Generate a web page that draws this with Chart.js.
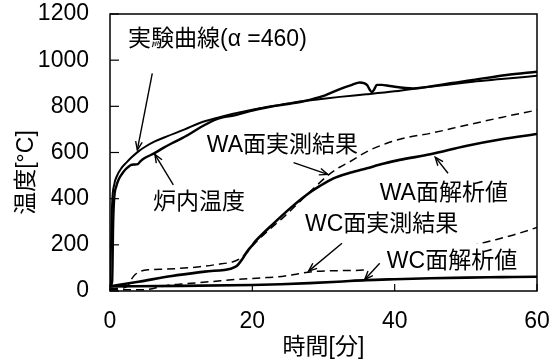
<!DOCTYPE html>
<html>
<head>
<meta charset="utf-8">
<script src="https://cdn.jsdelivr.net/npm/chart.js@4/dist/chart.umd.min.js"></script>
<style>
  html, body { margin: 0; padding: 0; background: #fff; }
  canvas { display: block; }
</style>
</head>
<body>
<canvas id="chart" width="553" height="362"></canvas>
<script>
// 時間 [分] と温度 [℃]

// 実験曲線 (α = 460)
const stdTime = [0, 0.15, 0.3, 0.6, 1.0, 1.6, 2.3, 3.0, 4.0, 5.0, 6.3, 8.0, 10.5, 12.6, 15, 17.3, 20, 22, 25, 27, 30, 32.3, 36, 40, 45, 51, 55, 60];
const stdTemp = [20, 200, 380, 462, 500, 532, 556, 578, 605, 626, 648, 670, 700, 728, 750, 768, 785, 797, 812, 822, 833, 841, 852, 865, 885, 907, 918, 932];

// 炉内温度
const furnaceTime = [0, 0.3, 0.45, 0.6, 0.9, 1.2, 1.7, 2.1, 2.6, 3.0, 3.3, 3.9, 4.3, 5.0, 6.2, 7.5, 8.7, 10.5, 12.5, 15, 17.8, 20, 22, 25, 27.2, 30, 32.3, 34, 35.1, 36.1, 36.5, 36.8, 37.1, 37.5, 38.2, 39.3, 42.6, 46.4, 51, 55.7, 60];
const furnaceTemp = [20, 40, 300, 405, 455, 482, 508, 524, 538, 546, 548, 550, 563, 578, 596, 620, 640, 668, 705, 745, 763, 782, 795, 810, 822, 845, 875, 893, 903, 893, 872, 862, 872, 893, 893, 888, 878, 893, 914, 936, 950];

// WA面 解析値
const waCalcTime = [0, 2, 4, 8.7, 13.3, 17.1, 17.8, 18.5, 19.2, 19.9, 20.6, 23, 25.3, 27.6, 29.5, 31.4, 33.7, 36.1, 38.5, 40.7, 45, 50, 55, 60];
const waCalcTemp = [20, 30, 40, 65, 84, 98, 108, 134, 168, 195, 221, 293, 358, 416, 455, 488, 512, 532, 552, 568, 592, 628, 657, 680];

// WA面 実測結果
const waMeasTime = [0, 1.5, 2.5, 2.9, 3.5, 4.2, 5.5, 8, 12.6, 15, 17.3, 18.3, 19.2, 20, 22, 24.4, 26.7, 28.8, 30.7, 32.2, 33.7, 36.1, 38.9, 41.7, 45, 50, 55, 60];
const waMeasTemp = [10, 12, 22, 45, 70, 84, 92, 95, 105, 115, 127, 141, 165, 195, 255, 320, 388, 450, 503, 535, 560, 604, 640, 665, 683, 718, 752, 784];

// WC面 解析値
const wcCalcTime = [0, 10, 20, 24, 28, 32, 36, 40, 45, 50, 55, 60];
const wcCalcTemp = [20, 22, 26, 29, 34, 40, 47, 51, 55, 58, 60, 62];

// WC面 実測結果
const wcMeasTime = [0, 5, 6.5, 8, 10, 14, 18, 22, 24.6, 26.5, 28.6, 32, 35.6, 40, 45, 49, 52.9, 56.7, 60];
const wcMeasTemp = [5, 6, 14, 24, 30, 40, 51, 58, 65, 75, 84, 88, 91, 110, 145, 180, 212, 243, 275];

// 目盛
const xTicks = [0, 20, 40, 60];
const yTicks = [0, 200, 400, 600, 800, 1000, 1200];

const LATIN_CJK = "'Liberation Sans', Arial, 'Noto Sans CJK JP', sans-serif";
const FONT_SIZE = 23;

const pts = (ts, vs) => ts.map((t, i) => ({ x: t, y: vs[i] }));

// 引出し線つきの注記 (位置は軸の値で指定)
const notes = [
  { text: '実験曲線(α =460)', at: [2.53, 1102], from: [5.94, 943], to: [3.84, 611] },
  { text: '炉内温度',         at: [6.04, 394],  from: [8.9, 460],   to: [6.3, 592] },
  { text: 'WA面実測結果',     at: [13.6, 641],  from: [25.8, 556],  to: [30.6, 505] },
  { text: 'WA面解析値',       at: [37.9, 435],  from: [47.5, 510],  to: [45.7, 580] },
  { text: 'WC面実測結果',     at: [27.4, 299],  from: [32.6, 207],  to: [27.9, 86] },
  { text: 'WC面解析値',       at: [38.9, 142],  from: [37.9, 120],  to: [35.8, 50], box: [35.8, 57, 74, 205] }
];

function arrow(ctx, x1, y1, x2, y2) {
  const ang = Math.atan2(y2 - y1, x2 - x1);
  const len = 9, spread = 0.38;
  ctx.beginPath();
  ctx.moveTo(x1, y1);
  ctx.lineTo(x2, y2);
  ctx.stroke();
  ctx.beginPath();
  ctx.moveTo(x2 - len * Math.cos(ang - spread), y2 - len * Math.sin(ang - spread));
  ctx.lineTo(x2, y2);
  ctx.lineTo(x2 - len * Math.cos(ang + spread), y2 - len * Math.sin(ang + spread));
  ctx.stroke();
}

const framePlugin = {
  id: 'frameAndNotes',
  afterDatasetsDraw(chart) {
    const { ctx, chartArea: a, scales: { x, y } } = chart;
    ctx.save();

    // 枠
    ctx.strokeStyle = '#000';
    ctx.lineWidth = 1.5;
    ctx.strokeRect(a.left, a.top, a.right - a.left, a.bottom - a.top);

    // 内向きの目盛線
    ctx.lineWidth = 1.2;
    x.ticks.forEach(t => {
      const px = x.getPixelForValue(t.value);
      ctx.beginPath(); ctx.moveTo(px, a.bottom); ctx.lineTo(px, a.bottom - 7); ctx.stroke();
    });
    y.ticks.forEach(t => {
      const py = y.getPixelForValue(t.value);
      ctx.beginPath(); ctx.moveTo(a.left, py); ctx.lineTo(a.left + 9, py); ctx.stroke();
    });

    // 注記 (和文字形の縦位置を合わせるため少し下げる)
    ctx.font = FONT_SIZE + 'px ' + LATIN_CJK;
    ctx.textAlign = 'left';
    ctx.textBaseline = 'middle';
    const textDrop = 3;
    notes.forEach(n => {
      if (n.box) {
        const bx1 = x.getPixelForValue(n.box[0]), bx2 = x.getPixelForValue(n.box[1]);
        const by1 = y.getPixelForValue(n.box[3]), by2 = y.getPixelForValue(n.box[2]);
        ctx.fillStyle = '#fff';
        ctx.fillRect(bx1, by1, bx2 - bx1, by2 - by1);
      }
      ctx.fillStyle = '#000';
      ctx.fillText(n.text, x.getPixelForValue(n.at[0]), y.getPixelForValue(n.at[1]) + textDrop);
      ctx.lineWidth = 1.4;
      arrow(ctx,
        x.getPixelForValue(n.from[0]), y.getPixelForValue(n.from[1]),
        x.getPixelForValue(n.to[0]), y.getPixelForValue(n.to[1]));
    });

    // 縦軸タイトル
    ctx.save();
    ctx.translate(27, (a.top + a.bottom) / 2 + 20);
    ctx.rotate(-Math.PI / 2);
    ctx.textAlign = 'center';
    ctx.textBaseline = 'middle';
    ctx.fillText('温度[°C]', 0, 0);
    ctx.restore();

    ctx.restore();
  }
};

const solid = (data, w) => ({ data, borderColor: '#000', borderWidth: w, pointRadius: 0, fill: false });
const dashed = (data, w) => ({ data, borderColor: '#000', borderWidth: w, borderDash: [8, 5], pointRadius: 0, fill: false });

new Chart(document.getElementById('chart'), {
  type: 'line',
  data: {
    datasets: [
      { label: '実験曲線', ...solid(pts(stdTime, stdTemp), 2) },
      { label: '炉内温度', ...solid(pts(furnaceTime, furnaceTemp), 2.4) },
      { label: 'WA面解析値', ...solid(pts(waCalcTime, waCalcTemp), 2.6) },
      { label: 'WA面実測結果', ...dashed(pts(waMeasTime, waMeasTemp), 1.5) },
      { label: 'WC面解析値', ...solid(pts(wcCalcTime, wcCalcTemp), 2.6) },
      { label: 'WC面実測結果', ...dashed(pts(wcMeasTime, wcMeasTemp), 1.5) }
    ]
  },
  options: {
    responsive: false,
    animation: false,
    devicePixelRatio: 1,
    layout: { padding: { top: 14, right: 16, left: 0, bottom: 0 } },
    elements: { line: { cubicInterpolationMode: 'monotone' } },
    plugins: { legend: { display: false }, tooltip: { enabled: false } },
    scales: {
      x: {
        type: 'linear', min: 0, max: 60,
        afterBuildTicks: s => { s.ticks = xTicks.map(v => ({ value: v })); },
        afterFit: s => { s.height = 71; s.paddingLeft = 0; s.paddingRight = 0; },
        grid: { display: false, drawTicks: false },
        border: { display: false },
        ticks: { padding: 17, maxRotation: 0, color: '#000', font: { family: LATIN_CJK, size: FONT_SIZE }, callback: v => String(v) },
        title: { display: true, text: '時間[分]', color: '#000', padding: { top: 0, bottom: 1 }, font: { family: LATIN_CJK, size: FONT_SIZE } }
      },
      y: {
        type: 'linear', min: 0, max: 1200,
        afterBuildTicks: s => { s.ticks = yTicks.map(v => ({ value: v })); },
        afterFit: s => { s.width = 110; s.paddingTop = 0; s.paddingBottom = 0; },
        grid: { display: false, drawTicks: false },
        border: { display: false },
        ticks: { padding: 21, color: '#000', font: { family: LATIN_CJK, size: FONT_SIZE }, callback: v => String(v) }
      }
    }
  },
  plugins: [framePlugin]
});
</script>
</body>
</html>
